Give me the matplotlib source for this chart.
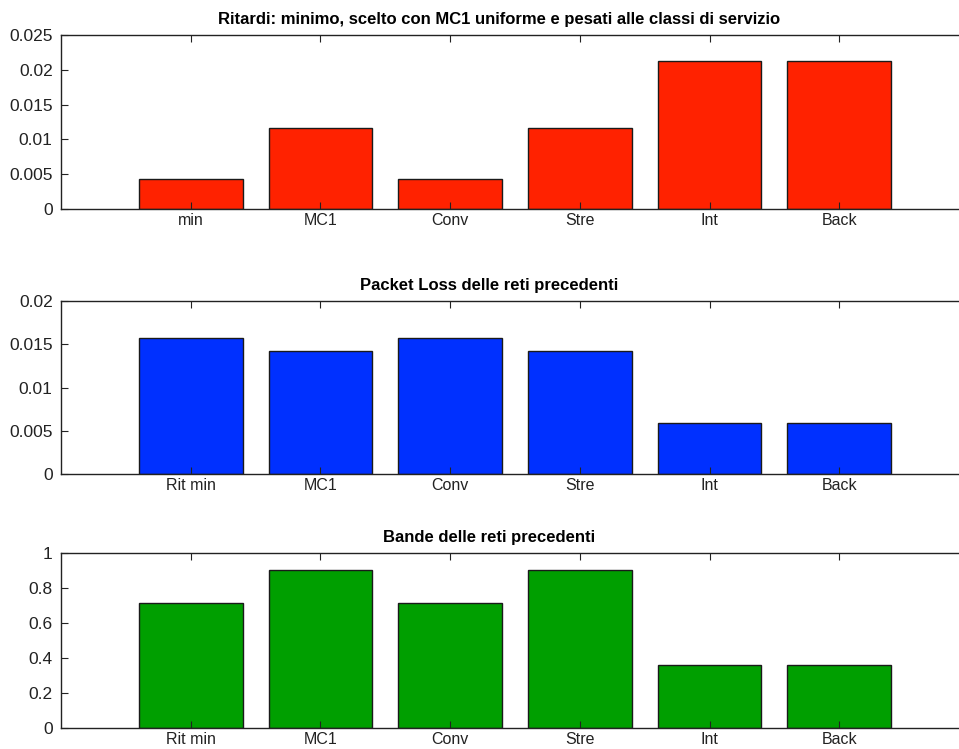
import matplotlib
matplotlib.use("Agg")
import matplotlib.pyplot as plt

# data
labels_top = ["min", "MC1", "Conv", "Stre", "Int", "Back"]
labels_rest = ["Rit min", "MC1", "Conv", "Stre", "Int", "Back"]
ritardi = [0.0043, 0.0117, 0.0043, 0.0117, 0.0213, 0.0213]
packet_loss = [0.0157, 0.0142, 0.0157, 0.0142, 0.0059, 0.0059]
bande = [0.714, 0.903, 0.714, 0.903, 0.36, 0.36]

titles = ["Ritardi: minimo, scelto con MC1 uniforme e pesati alle classi di servizio",
          "Packet Loss delle reti precedenti",
          "Bande delle reti precedenti"]
title_x = [0.482, 0.472, 0.471]
colors = ["#ff2200", "#0030ff", "#009f00"]
ylims = [(0, 0.025), (0, 0.02), (0, 1)]
yticks = [[0, 0.005, 0.01, 0.015, 0.02, 0.025],
          [0, 0.005, 0.01, 0.015, 0.02],
          [0, 0.2, 0.4, 0.6, 0.8, 1]]
ytlabels = [["0", "0.005", "0.01", "0.015", "0.02", "0.025"],
            ["0", "0.005", "0.01", "0.015", "0.02"],
            ["0", "0.2", "0.4", "0.6", "0.8", "1"]]

plt.rcParams['font.family'] = ['Liberation Sans', 'DejaVu Sans']

W, H = 959, 749
fig = plt.figure(figsize=(W / 100, H / 100), dpi=100)

# axes boxes in pixels (left, top, right, bottom); right edge runs off the canvas
boxes = [(61, 35, 969, 209), (61, 301, 969, 474), (61, 553, 969, 728)]
data = [ritardi, packet_loss, bande]
xlabs = [labels_top, labels_rest, labels_rest]

for i in range(3):
	l, t, r, b = boxes[i]
	ax = fig.add_axes([l / W, 1 - b / H, (r - l) / W, (b - t) / H])
	x = range(1, len(data[i]) + 1)
	ax.bar(x, data[i], width=0.8, color=colors[i], edgecolor="#1a1a1a", linewidth=1)
	ax.set_xlim(0, 7)
	ax.set_ylim(*ylims[i])
	ax.set_xticks(list(x))
	ax.set_xticklabels(xlabs[i])
	ax.set_yticks(yticks[i])
	ax.set_yticklabels(ytlabels[i])
	ax.tick_params(direction="in", length=5, width=0.8, color="#222222",
		labelcolor="#222222", top=True, right=True)
	ax.tick_params(axis="y", labelsize=12.5, pad=6)
	ax.tick_params(axis="x", labelsize=11.5, pad=3)
	for s in ax.spines.values():
		s.set_color("#222222")
		s.set_linewidth(1)
	ax.set_title(titles[i], fontsize=12, fontweight="bold", x=title_x[i], pad=8)

fig.savefig("out.png", dpi=100)
